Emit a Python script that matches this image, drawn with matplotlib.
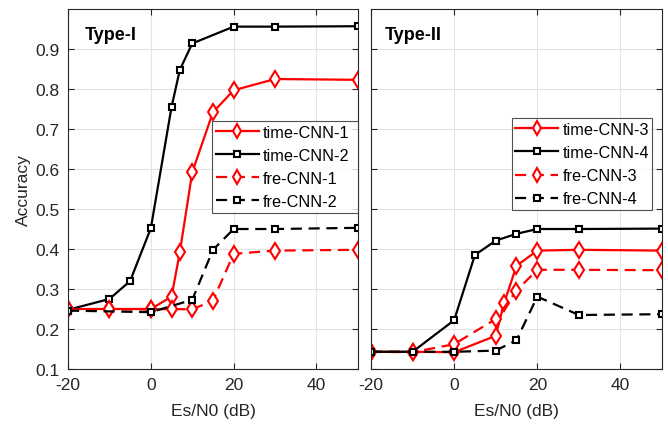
import numpy as np
import matplotlib
matplotlib.use('Agg')
import matplotlib.pyplot as plt

plt.rcParams['font.family'] = ['Liberation Sans', 'DejaVu Sans']
plt.rcParams['axes.unicode_minus'] = False

#Data (Es/N0 in dB, accuracy)
#---------------------------------
x_t1 = [-20, -10, 0, 5, 7, 10, 15, 20, 30, 50]
y_t1 = [0.250, 0.250, 0.250, 0.281, 0.392, 0.592, 0.742, 0.797, 0.825, 0.823]
x_t2 = [-20, -10, -5, 0, 5, 7, 10, 20, 30, 50]
y_t2 = [0.248, 0.275, 0.320, 0.452, 0.755, 0.848, 0.914, 0.956, 0.956, 0.957]
x_f1 = [-20, -10, 0, 5, 10, 15, 20, 30, 50]
y_f1 = [0.249, 0.249, 0.249, 0.250, 0.249, 0.271, 0.388, 0.396, 0.398]
x_f2 = [-20, 0, 10, 15, 20, 30, 50]
y_f2 = [0.246, 0.242, 0.273, 0.398, 0.450, 0.450, 0.453]

x_t3 = [-20, -10, 0, 10, 12, 15, 20, 30, 50]
y_t3 = [0.143, 0.143, 0.142, 0.183, 0.264, 0.358, 0.396, 0.398, 0.396]
x_t4 = [-20, -10, 0, 5, 10, 15, 20, 30, 50]
y_t4 = [0.143, 0.143, 0.222, 0.385, 0.421, 0.438, 0.450, 0.450, 0.451]
x_f3 = [-20, -10, 0, 10, 15, 20, 30, 50]
y_f3 = [0.143, 0.142, 0.162, 0.225, 0.296, 0.348, 0.348, 0.347]
x_f4 = [-20, -10, 0, 10, 15, 20, 30, 50]
y_f4 = [0.143, 0.143, 0.143, 0.146, 0.172, 0.281, 0.235, 0.237]

names_1 = ['time-CNN-1', 'time-CNN-2', 'fre-CNN-1', 'fre-CNN-2']
names_2 = ['time-CNN-3', 'time-CNN-4', 'fre-CNN-3', 'fre-CNN-4']
#---------------------------------

#Figure settings
size_axis = 12.5; size_ticks = 12.5; size_leg = 11.7
line_w = 1.6; dash = (0, (5, 3))

fig = plt.figure(figsize=(6.68, 4.27), dpi=100)
ax1 = fig.add_axes([0.1018, 0.1335, 0.434, 0.843])
ax2 = fig.add_axes([0.5554, 0.1335, 0.4356, 0.843])


def draw(ax, series, names, legend_box):
    styles = [('r', '-', 'd', 8), ('k', '-', 's', 5), ('r', dash, 'd', 8), ('k', dash, 's', 5)]
    for (x, y), name, (c, ls, m, ms) in zip(series, names, styles):
        ax.plot(x, y, color=c, linestyle=ls, marker=m, markersize=ms, lw=line_w,
                markerfacecolor='white', markeredgewidth=1.5, label=name)
    ax.set_xlim(-20, 50); ax.set_ylim(0.1, 1.0)
    ax.set_xticks([-20, 0, 20, 40])
    ax.set_yticks(np.arange(0.1, 0.95, 0.1))
    ax.grid(True, color='#e3e3e3', lw=0.8)
    ax.set_axisbelow(True)
    ax.tick_params(direction='in', top=True, right=True, labelsize=size_ticks,
                   color='#262626', labelcolor='#262626', length=4, pad=6)
    for s in ax.spines.values():
        s.set_color('#262626'); s.set_linewidth(0.8)
    ax.set_xlabel('Es/N0 (dB)', fontsize=size_axis, color='#262626', labelpad=8)
    leg = ax.legend(loc='upper left', bbox_to_anchor=legend_box, mode='expand',
                    fontsize=size_leg, handlelength=2.65, handletextpad=0.25,
                    borderaxespad=0, fancybox=False, edgecolor='#262626',
                    labelspacing=0.5, borderpad=0.22, markerscale=0.85)
    leg.get_frame().set_linewidth(0.8)


draw(ax1, [(x_t1, y_t1), (x_t2, y_t2), (x_f1, y_f1), (x_f2, y_f2)], names_1,
     (0.497, 0.436, 0.503, 0.253))
draw(ax2, [(x_t3, y_t3), (x_t4, y_t4), (x_f3, y_f3), (x_f4, y_f4)], names_2,
     (0.483, 0.4425, 0.482, 0.2535))

ax1.set_yticklabels([f'{v:.1f}' for v in np.arange(0.1, 0.95, 0.1)])
ax2.set_yticklabels([])
ax1.set_ylabel('Accuracy', fontsize=size_axis, color='#262626', labelpad=3)

ax1.text(0.059, 0.93, 'Type-I', transform=ax1.transAxes, fontsize=13,
         fontweight='bold', va='center')
ax2.text(0.048, 0.93, 'Type-II', transform=ax2.transAxes, fontsize=13,
         fontweight='bold', va='center')

fig.savefig('out.png', dpi=100)
